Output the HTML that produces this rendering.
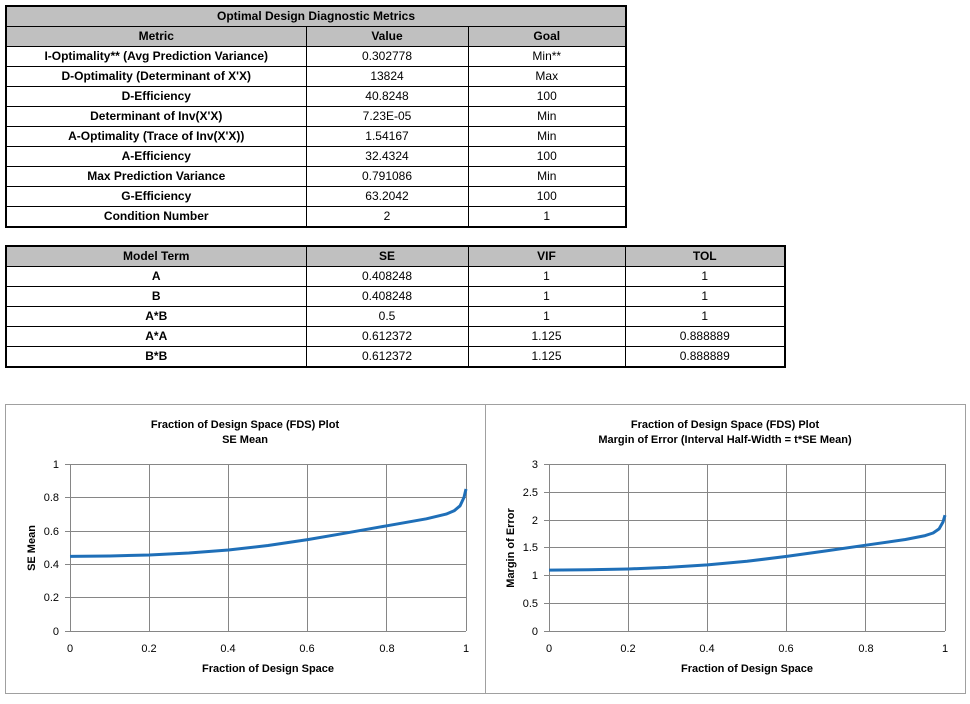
<!DOCTYPE html>
<html><head><style>
body{margin:0;background:#fff;width:970px;height:704px;position:relative;overflow:hidden;font-family:"Liberation Sans",Arial,sans-serif}
table{position:absolute;border-collapse:collapse;font-size:12px;table-layout:fixed}
td{border:1px solid #000;height:19px;padding:0;text-align:center;line-height:19px}
.h td{background:#c0c0c0;font-weight:bold}
td.b{font-weight:bold}
.box{position:absolute;border:1px solid #a0a0a0}
svg text{font-family:"Liberation Sans",Arial,sans-serif}
</style></head><body>
<table style="left:5px;top:5px;width:620px;border:2px solid #000">
<colgroup><col style="width:300px"><col style="width:162px"><col style="width:158px"></colgroup>
<tr class="h"><td colspan="3">Optimal Design Diagnostic Metrics</td></tr>
<tr class="h"><td>Metric</td><td>Value</td><td>Goal</td></tr>
<tr><td class="b">I-Optimality** (Avg Prediction Variance)</td><td>0.302778</td><td>Min**</td></tr>
<tr><td class="b">D-Optimality (Determinant of X'X)</td><td>13824</td><td>Max</td></tr>
<tr><td class="b">D-Efficiency</td><td>40.8248</td><td>100</td></tr>
<tr><td class="b">Determinant of Inv(X'X)</td><td>7.23E-05</td><td>Min</td></tr>
<tr><td class="b">A-Optimality (Trace of Inv(X'X))</td><td>1.54167</td><td>Min</td></tr>
<tr><td class="b">A-Efficiency</td><td>32.4324</td><td>100</td></tr>
<tr><td class="b">Max Prediction Variance</td><td>0.791086</td><td>Min</td></tr>
<tr><td class="b">G-Efficiency</td><td>63.2042</td><td>100</td></tr>
<tr><td class="b">Condition Number</td><td>2</td><td>1</td></tr>
</table>
<table style="left:5px;top:245px;width:779px;border:2px solid #000">
<colgroup><col style="width:300px"><col style="width:162px"><col style="width:157px"><col style="width:160px"></colgroup>
<tr class="h"><td>Model Term</td><td>SE</td><td>VIF</td><td>TOL</td></tr>
<tr><td class="b">A</td><td>0.408248</td><td>1</td><td>1</td></tr>
<tr><td class="b">B</td><td>0.408248</td><td>1</td><td>1</td></tr>
<tr><td class="b">A*B</td><td>0.5</td><td>1</td><td>1</td></tr>
<tr><td class="b">A*A</td><td>0.612372</td><td>1.125</td><td>0.888889</td></tr>
<tr><td class="b">B*B</td><td>0.612372</td><td>1.125</td><td>0.888889</td></tr>
</table>
<div class="box" style="left:5px;top:404px;width:479px;height:288px"></div>
<div class="box" style="left:485px;top:404px;width:479px;height:288px"></div>
<svg width="970" height="704" style="position:absolute;left:0;top:0">
<g stroke="#868686" stroke-width="1" fill="none">
<path d="M70 464.5H466M70 497.5H466M70 531.5H466M70 564.5H466M70 597.5H466M70 631.5H466"/>
<path d="M70.5 464V631M149.5 464V631M228.5 464V631M307.5 464V631M386.5 464V631M466.5 464V631"/>
<path d="M65 464.5H70M65 497.5H70M65 531.5H70M65 564.5H70M65 597.5H70M65 631.5H70"/>
<path d="M549 464.5H945M549 492.5H945M549 520.5H945M549 547.5H945M549 575.5H945M549 603.5H945M549 631.5H945"/>
<path d="M549.5 464V631M628.5 464V631M707.5 464V631M786.5 464V631M865.5 464V631M945.5 464V631"/>
<path d="M544 464.5H549M544 492.5H549M544 520.5H549M544 547.5H549M544 575.5H549M544 603.5H549M544 631.5H549"/>
</g>
<g fill="none" stroke="#1f6fb8" stroke-width="3" stroke-linejoin="round">
<polyline points="70,556.4 109.6,556 149.2,555 188.8,553 228.4,550 268,545.5 307.6,539.6 347.2,532.8 386.8,525.8 426.4,518.8 446.2,514.1 454.1,510.8 460.1,505.8 464,497.4 466,489"/>
<polyline points="549,570.1 588.6,569.8 628.2,569 667.8,567.4 707.4,564.9 747,561.3 786.6,556.4 826.2,550.9 865.8,545.2 905.4,539.5 925.2,535.6 933.1,533 939.1,528.9 943,522 945,515.2"/>
</g>
<g font-size="11" fill="#000">
<g text-anchor="middle" font-weight="bold">
<text x="245" y="428">Fraction of Design Space (FDS) Plot</text>
<text x="245" y="443">SE Mean</text>
<text x="268" y="672">Fraction of Design Space</text>
<text x="725" y="428">Fraction of Design Space (FDS) Plot</text>
<text x="725" y="443">Margin of Error (Interval Half-Width = t*SE Mean)</text>
<text x="747" y="672">Fraction of Design Space</text>
<text transform="translate(35,548) rotate(-90)">SE Mean</text>
<text transform="translate(514,548) rotate(-90)">Margin of Error</text>
</g>
<g text-anchor="end">
<text x="59" y="468">1</text><text x="59" y="501">0.8</text><text x="59" y="535">0.6</text><text x="59" y="568">0.4</text><text x="59" y="601">0.2</text><text x="59" y="635">0</text>
<text x="538" y="468">3</text><text x="538" y="496">2.5</text><text x="538" y="524">2</text><text x="538" y="551">1.5</text><text x="538" y="579">1</text><text x="538" y="607">0.5</text><text x="538" y="635">0</text>
</g>
<g text-anchor="middle">
<text x="70" y="652">0</text><text x="149" y="652">0.2</text><text x="228" y="652">0.4</text><text x="307" y="652">0.6</text><text x="387" y="652">0.8</text><text x="466" y="652">1</text>
<text x="549" y="652">0</text><text x="628" y="652">0.2</text><text x="707" y="652">0.4</text><text x="786" y="652">0.6</text><text x="866" y="652">0.8</text><text x="945" y="652">1</text>
</g>
</g>
</svg>
</body></html>
